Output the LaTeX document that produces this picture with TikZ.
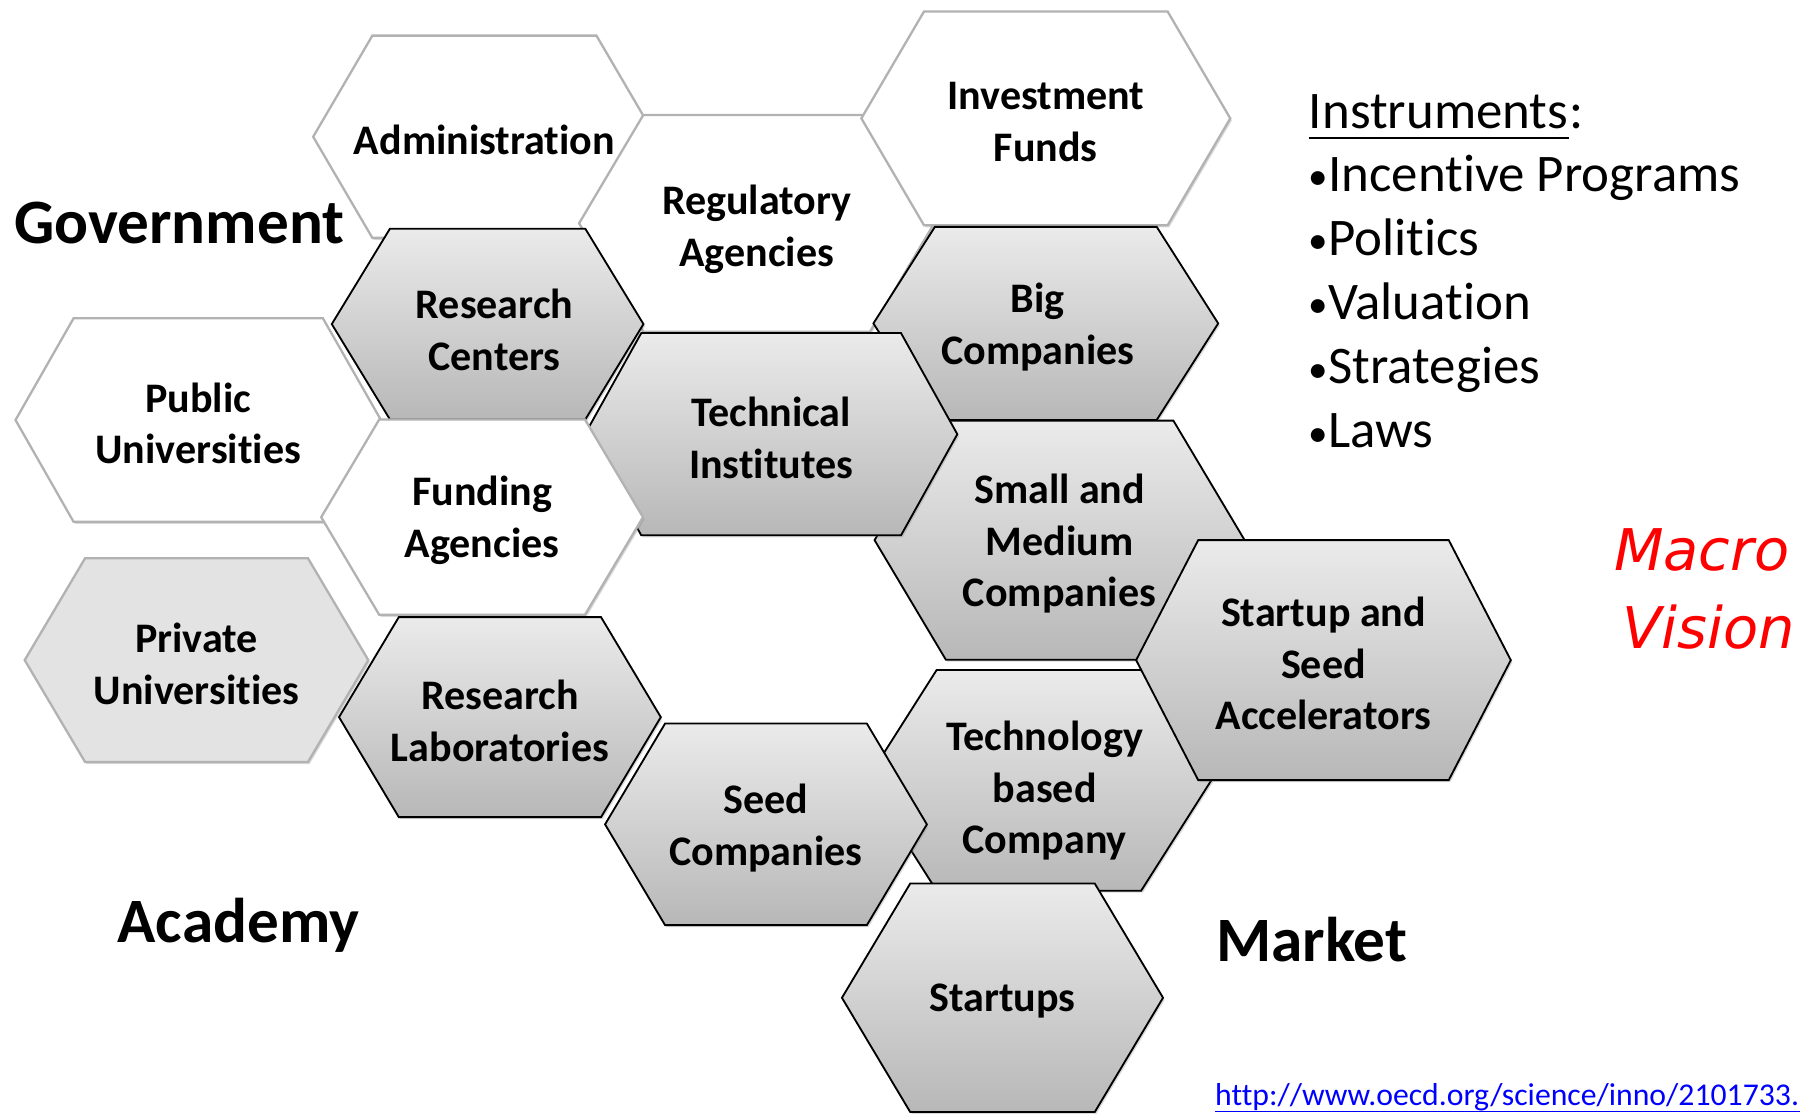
\documentclass[tikz,border=0pt]{standalone}
\usepackage{fontspec}
\setmainfont{Carlito}[Ligatures=NoCommon]
\newfontfamily\macrofont{DejaVu Sans}
\usetikzlibrary{shadows}

% hexagon cell: [label shift], style, name, centre x, centre y, half width, half top, half height, text
\newcommand{\hexcell}[9][]{%
  \path[#2] (#4-#6,#5) -- (#4-#7,#5-#8) -- (#4+#7,#5-#8) -- (#4+#6,#5)
    -- (#4+#7,#5+#8) -- (#4-#7,#5+#8) -- cycle;
  \node[hexlabel,#1] (#3) at (#4,#5) {#9};
}
\newcommand{\smallbul}{{\fontsize{17}{17}\selectfont\raisebox{0.8pt}{•}}}

\begin{document}
\begin{tikzpicture}[x=0.5pt, y=-0.5pt,
whitehex/.style={fill=white, draw=black!30, line width=1pt,
  drop shadow={shadow xshift=0.7pt, shadow yshift=-0.9pt, opacity=0.3}},
grayhex/.style={top color=black!8, bottom color=black!28, draw=black, line width=0.8pt,
  drop shadow={shadow xshift=0.7pt, shadow yshift=-0.9pt, opacity=0.3}},
palehex/.style={fill=black!11, draw=black!30, line width=1pt,
  drop shadow={shadow xshift=0.7pt, shadow yshift=-0.9pt, opacity=0.3}},
hexlabel/.style={font=\bfseries\fontsize{18.3}{22.5}\selectfont, align=center, inner sep=0pt, yshift=-1.5pt},
side/.style={font=\bfseries\fontsize{27.5}{33}\selectfont, inner sep=0pt, anchor=base west},
instr/.style={font=\fontsize{23}{28}\selectfont, inner sep=0pt, anchor=base west},
macro/.style={font=\macrofont\itshape\fontsize{25}{31}\selectfont, text=red, inner sep=0pt, anchor=base west},
link/.style={font=\fontsize{13.8}{16}\selectfont, text=blue, inner sep=0pt, anchor=base west},
]
\useasboundingbox (0,0) rectangle (1568,969);
\clip (0,0) rectangle (1568,969);

% the honeycomb
\hexcell{whitehex}{admin}{421.5}{119}{149}{97.5}{88}{Administration}
\hexcell[yshift=-1pt]{whitehex}{regul}{658.4}{194.3}{154.5}{98.6}{94.3}{Regulatory\\Agencies}
\hexcell{whitehex}{invest}{910}{103}{160.5}{106}{93}{Investment\\Funds}
\hexcell{whitehex}{public}{172.5}{365.5}{159}{108.5}{88.5}{Public\\Universities}
\hexcell[xshift=3pt, yshift=-1pt]{grayhex}{rescent}{424.3}{282}{135.6}{85}{83}{Research\\Centers}
\hexcell[xshift=-3.5pt]{grayhex}{big}{910}{281.4}{150}{96.5}{84}{Big\\Companies}
\hexcell{grayhex}{smallmed}{922}{470}{161}{99}{104}{Small and\\Medium\\Companies}
\hexcell{grayhex}{techinst}{671}{377.8}{162}{113}{88}{Technical\\Institutes}
\hexcell{whitehex}{funding}{419.5}{450}{140}{89.5}{85}{Funding\\Agencies}
\hexcell{palehex}{private}{171}{574.4}{149.5}{97}{88.6}{Private\\Universities}
\hexcell{grayhex}{reslab}{435}{624}{140}{88}{87}{Research\\Laboratories}
\hexcell[xshift=2.5pt, yshift=-3pt]{grayhex}{techbased}{904}{679}{150}{89}{96}{Technology\\based\\Company}
\hexcell{grayhex}{startacc}{1151.6}{574.4}{163}{109}{104.4}{Startup and\\Seed\\Accelerators}
\hexcell{grayhex}{seedcomp}{666.5}{717.3}{140}{87.8}{87.7}{Seed\\Companies}
\hexcell{grayhex}{startups}{872.3}{868.2}{139.7}{80.3}{99.4}{Startups}

% sectors
\node[side] (gov) at (12,212) {Government};
\node[side] (acad) at (102,820) {Academy};
\node[side] (market) at (1058,837) {Market};

% instruments
\node[instr] (instrword) at (1138.6,111.7) {Instruments};
\node[instr] (colon) at (instrword.base east) {:};
\draw[line width=0.9pt] ([yshift=-4.3pt]instrword.base west) -- ([yshift=-4.3pt]instrword.base east);
\node[instr] (incent) at (1138.6,166.8) {\smallbul Incentive Programs};
\node[instr] (polit) at (1138.6,222.4) {\smallbul Politics};
\node[instr] (valu) at (1138.6,278.2) {\smallbul Valuation};
\node[instr] (strat) at (1138.6,334) {\smallbul Strategies};
\node[instr] (laws) at (1138.6,389.8) {\smallbul Laws};

\node[macro] (macrow) at (1404,496.7) {Macro};
\node[macro] (vision) at (1411,564.2) {Vision};

\node[link] (url) at (1057,962) {http://www.oecd.org/science/inno/2101733.};
\draw[blue, line width=0.6pt] ([yshift=-2.7pt]url.base west) -- ([yshift=-2.7pt]url.base east);
\end{tikzpicture}
\end{document}
